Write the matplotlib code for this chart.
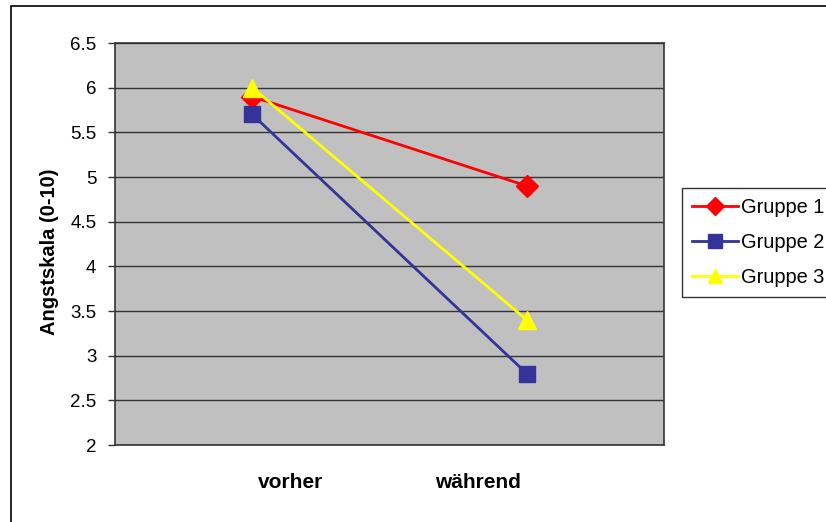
import matplotlib.pyplot as plt
import matplotlib.transforms as mtransforms
from matplotlib.patches import Rectangle

plt.rcParams["font.family"] = ["Liberation Sans", "DejaVu Sans"]

categories = ["vorher", "während"]
gruppe_1 = [5.9, 4.9]
gruppe_2 = [5.7, 2.8]
gruppe_3 = [6.0, 3.4]
y_ticks = [2, 2.5, 3, 3.5, 4, 4.5, 5, 5.5, 6, 6.5]
y_ticklabels = ["2", "2.5", "3", "3.5", "4", "4.5", "5", "5.5", "6", "6.5"]

W, H = 826, 522
fig = plt.figure(figsize=(W / 100, H / 100), dpi=100)
fig.patch.set_facecolor("white")

# outer chart frame (runs off the right/bottom edges)
fig.patches.append(Rectangle((11 / W, -0.05), 1.2, 1 - 6 / H + 0.05,
                             transform=fig.transFigure, fill=False,
                             edgecolor="black", linewidth=1.2))

ax = fig.add_axes([115 / W, 1 - 445 / H, (664 - 115) / W, (445 - 43) / H])
ax.set_facecolor("#C0C0C0")

x = list(range(len(categories)))
ax.plot(x, gruppe_1, color="#FF0000", linewidth=2.0, marker="D",
        markersize=11, label="Gruppe 1", zorder=3)
ax.plot(x, gruppe_2, color="#333399", linewidth=2.0, marker="s",
        markersize=12, label="Gruppe 2", zorder=4)
ax.plot(x, gruppe_3, color="#FFFF00", linewidth=2.0, marker="^",
        markersize=13, label="Gruppe 3", zorder=5)

ax.set_xlim(-0.5, 1.5)
ax.set_ylim(2, 6.5)
ax.set_yticks(y_ticks)
ax.set_yticklabels(y_ticklabels, fontsize=13.5)
ax.set_xticks(x)
ax.set_xticklabels(categories, fontsize=15, fontweight="bold")
ax.tick_params(axis="x", length=0, pad=20.5)
ax.tick_params(axis="y", length=5, width=1, color="#333333", pad=8.5, direction="out")
ax.yaxis.grid(True, color="#333333", linewidth=1.0)
ax.set_axisbelow(True)
for s in ax.spines.values():
    s.set_color("#333333")
    s.set_linewidth(1.2)

# category labels sit a bit toward the middle in the original
for lbl, dx in zip(ax.get_xticklabels(), [0.38, -0.49]):
    lbl.set_transform(lbl.get_transform() +
                      mtransforms.ScaledTranslation(dx, 0, fig.dpi_scale_trans))

ax.set_ylabel("Angstskala (0-10)", fontsize=14.5, fontweight="bold")
ax.yaxis.set_label_coords(-0.102, 0.481)

leg = fig.legend(loc="upper left", bbox_to_anchor=(682 / W, 1 - 188 / H),
                 bbox_transform=fig.transFigure, borderaxespad=0,
                 fontsize=14.4, frameon=True, fancybox=False,
                 edgecolor="black", handlelength=2.3, handletextpad=0.15,
                 labelspacing=0.8, borderpad=0.5, markerscale=0.8)
leg.get_frame().set_linewidth(1.0)

fig.savefig("out.png", dpi=100)
